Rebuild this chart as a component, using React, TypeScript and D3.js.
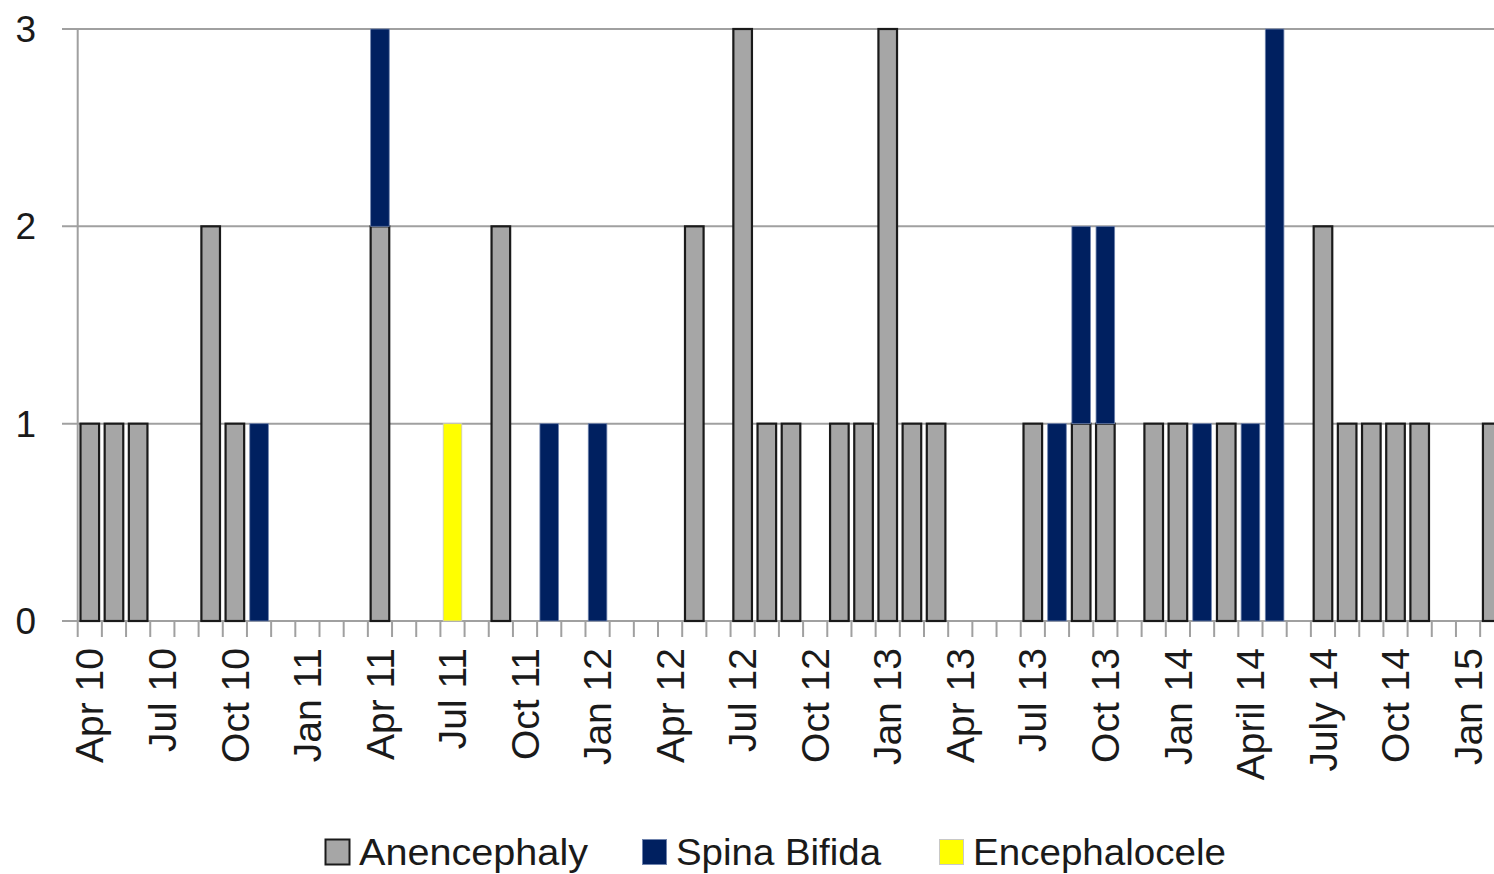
import React, { useEffect, useRef } from 'react';
import * as d3 from 'd3';

const months = [
  'Apr 10', 'May 10', 'Jun 10', 'Jul 10', 'Aug 10', 'Sep 10', 'Oct 10', 'Nov 10', 'Dec 10',
  'Jan 11', 'Feb 11', 'Mar 11', 'Apr 11', 'May 11', 'Jun 11', 'Jul 11', 'Aug 11', 'Sep 11',
  'Oct 11', 'Nov 11', 'Dec 11', 'Jan 12', 'Feb 12', 'Mar 12', 'Apr 12', 'May 12', 'Jun 12',
  'Jul 12', 'Aug 12', 'Sep 12', 'Oct 12', 'Nov 12', 'Dec 12', 'Jan 13', 'Feb 13', 'Mar 13',
  'Apr 13', 'May 13', 'Jun 13', 'Jul 13', 'Aug 13', 'Sep 13', 'Oct 13', 'Nov 13', 'Dec 13',
  'Jan 14', 'Feb 14', 'Mar 14', 'Apr 14', 'May 14', 'Jun 14', 'Jul 14', 'Aug 14', 'Sep 14',
  'Oct 14', 'Nov 14', 'Dec 14', 'Jan 15', 'Feb 15',
];

// label shown under every third month
const tickLabels = [
  'Apr 10', 'Jul 10', 'Oct 10', 'Jan 11', 'Apr 11', 'Jul 11', 'Oct 11', 'Jan 12', 'Apr 12', 'Jul 12',
  'Oct 12', 'Jan 13', 'Apr 13', 'Jul 13', 'Oct 13', 'Jan 14', 'April 14', 'July 14', 'Oct 14', 'Jan 15',
];

const anencephaly = [
  1, 1, 1, 0, 0, 2, 1, 0, 0, 0, 0, 0, 2, 0, 0, 0, 0, 2, 0, 0,
  0, 0, 0, 0, 0, 2, 0, 3, 1, 1, 0, 1, 1, 3, 1, 1, 0, 0, 0, 1,
  0, 1, 1, 0, 1, 1, 0, 1, 0, 0, 0, 2, 1, 1, 1, 1, 0, 0, 1,
];
const spinaBifida = [
  0, 0, 0, 0, 0, 0, 0, 1, 0, 0, 0, 0, 1, 0, 0, 0, 0, 0, 0, 1,
  0, 1, 0, 0, 0, 0, 0, 0, 0, 0, 0, 0, 0, 0, 0, 0, 0, 0, 0, 0,
  1, 1, 1, 0, 0, 0, 1, 0, 1, 3, 0, 0, 0, 0, 0, 0, 0, 0, 0,
];
const encephalocele = [
  0, 0, 0, 0, 0, 0, 0, 0, 0, 0, 0, 0, 0, 0, 0, 1, 0, 0, 0, 0,
  0, 0, 0, 0, 0, 0, 0, 0, 0, 0, 0, 0, 0, 0, 0, 0, 0, 0, 0, 0,
  0, 0, 0, 0, 0, 0, 0, 0, 0, 0, 0, 0, 0, 0, 0, 0, 0, 0, 0,
];

const seriesNames = ['Anencephaly', 'Spina Bifida', 'Encephalocele'];
const yTicks = [0, 1, 2, 3];

const W = 1494;
const H = 874;

const App = () => {
  const svgRef = useRef<SVGSVGElement>(null);

  useEffect(() => {
    const svg = d3.select(svgRef.current);
    svg.selectAll('*').remove();

    const left = 77.7;
    const step = 24.18;
    const x = d3.scaleBand<string>()
      .domain(months)
      .range([left, left + months.length * step])
      .padding(0);
    const y = d3.scaleLinear().domain([0, 3]).range([621, 29]);

    const rows = months.map((m, i) => ({
      month: m,
      'Anencephaly': anencephaly[i],
      'Spina Bifida': spinaBifida[i],
      'Encephalocele': encephalocele[i],
    }));
    const stacked = d3.stack<any>().keys(seriesNames)(rows);

    const fills: Record<string, string> = {
      'Anencephaly': '#a6a6a6',
      'Spina Bifida': '#002060',
      'Encephalocele': '#ffff00',
    };
    const strokes: Record<string, string> = {
      'Anencephaly': '#1a1a1a',
      'Spina Bifida': '#6f83ad',
      'Encephalocele': '#c8c8c8',
    };
    const strokeW: Record<string, number> = {
      'Anencephaly': 2.2,
      'Spina Bifida': 0.8,
      'Encephalocele': 0.8,
    };

    // gridlines
    svg.append('g')
      .selectAll('line')
      .data(yTicks)
      .join('line')
      .attr('x1', 62)
      .attr('x2', W)
      .attr('y1', (d) => y(d))
      .attr('y2', (d) => y(d))
      .attr('stroke', '#a0a0a0')
      .attr('stroke-width', 2);

    // y axis line
    svg.append('line')
      .attr('x1', left).attr('x2', left)
      .attr('y1', y(3)).attr('y2', 637)
      .attr('stroke', '#a0a0a0').attr('stroke-width', 2);

    // x ticks at category boundaries
    svg.append('g')
      .selectAll('line')
      .data(months)
      .join('line')
      .attr('x1', (d) => (x(d) as number) + step)
      .attr('x2', (d) => (x(d) as number) + step)
      .attr('y1', y(0))
      .attr('y2', 637)
      .attr('stroke', '#a0a0a0')
      .attr('stroke-width', 2);

    // y labels
    svg.append('g')
      .selectAll('text')
      .data(yTicks)
      .join('text')
      .attr('x', 36)
      .attr('y', (d) => y(d))
      .attr('dy', '0.35em')
      .attr('text-anchor', 'end')
      .style('font-family', 'Liberation Sans, Arial, sans-serif')
      .style('font-size', '37px')
      .attr('fill', '#1a1a1a')
      .text((d) => d);

    // bars
    const barW = 18.6;
    stacked.forEach((s) => {
      svg.append('g')
        .selectAll('rect')
        .data(s.filter((d) => d[1] - d[0] > 0))
        .join('rect')
        .attr('x', (d) => (x(d.data.month) as number) + (step - barW) / 2)
        .attr('width', barW)
        .attr('y', (d) => y(d[1]))
        .attr('height', (d) => y(d[0]) - y(d[1]))
        .attr('fill', fills[s.key])
        .attr('stroke', strokes[s.key])
        .attr('stroke-width', strokeW[s.key]);
    });

    // x labels
    svg.append('g')
      .selectAll('text')
      .data(tickLabels)
      .join('text')
      .attr('transform', (d, i) => {
        const m = months[i * 3];
        const cx = (x(m) as number) + step / 2;
        return `translate(${cx},648) rotate(-90)`;
      })
      .attr('dy', '0.35em')
      .attr('text-anchor', 'end')
      .style('font-family', 'Liberation Sans, Arial, sans-serif')
      .style('font-size', '39px')
      .attr('fill', '#1a1a1a')
      .text((d) => d);

    // legend
    const legendX = [325, 642, 939];
    const legendTextW = [229, 205, 253];
    const legend = svg.append('g')
      .selectAll('g')
      .data(seriesNames)
      .join('g')
      .attr('transform', (d, i) => `translate(${legendX[i]},839)`);
    legend.append('rect')
      .attr('x', 0.5)
      .attr('y', 0.5)
      .attr('width', 24)
      .attr('height', 25)
      .attr('fill', (d) => fills[d])
      .attr('stroke', (d) => strokes[d])
      .attr('stroke-width', (d) => (d === 'Anencephaly' ? 2 : 1));
    legend.append('text')
      .attr('x', 34)
      .attr('y', 25.5)
      .attr('textLength', (d, i) => legendTextW[i])
      .attr('lengthAdjust', 'spacingAndGlyphs')
      .style('font-family', 'Liberation Sans, Arial, sans-serif')
      .style('font-size', '37px')
      .attr('fill', '#1a1a1a')
      .text((d) => d);
  }, []);

  return (
    <svg
      ref={svgRef}
      width={W}
      height={H}
      style={{ position: 'absolute', left: 0, top: 0, background: '#fff' }}
    />
  );
};

export default App;
